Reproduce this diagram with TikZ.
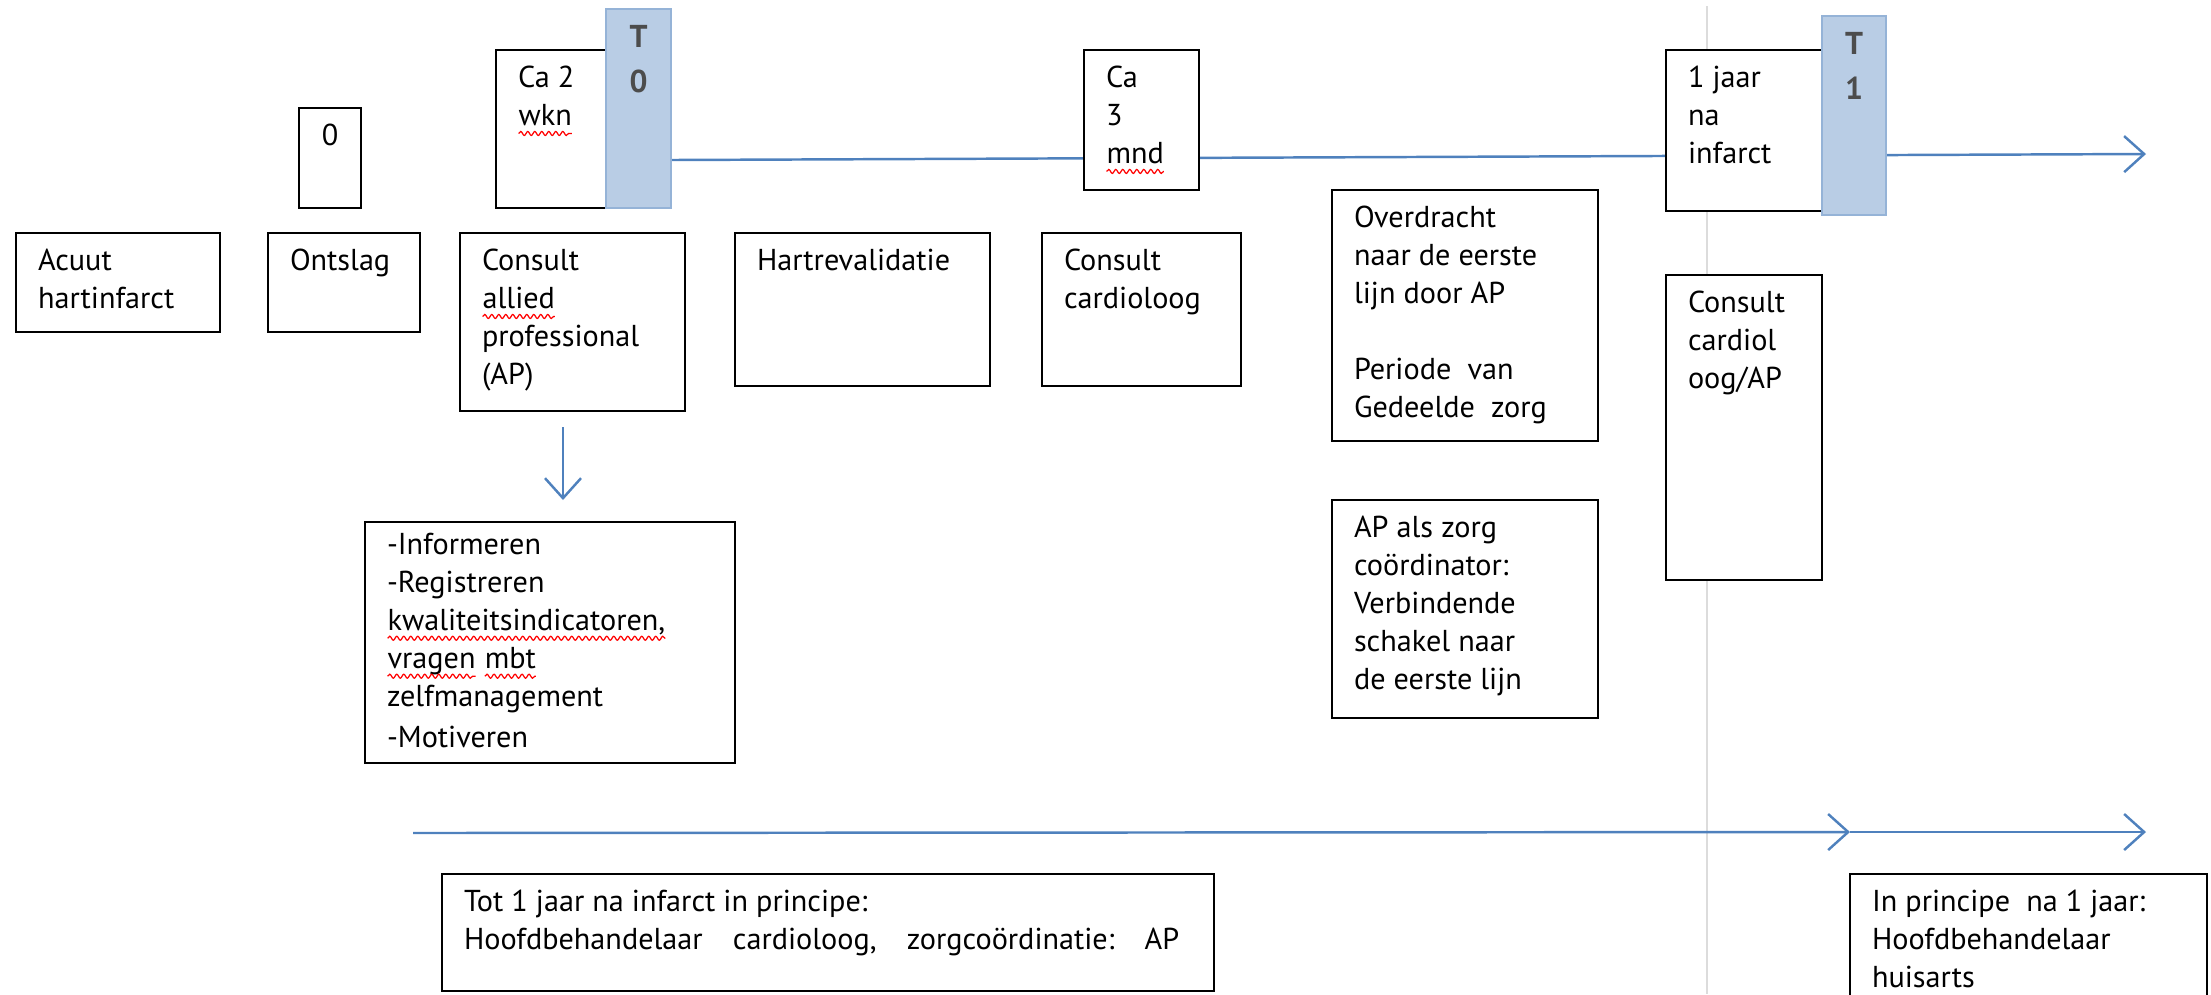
\documentclass[tikz,border=0pt]{standalone}
\usepackage{fontspec}
\setmainfont{PT Sans}
\usetikzlibrary{arrows.meta,decorations.pathmorphing}

\definecolor{lijnblauw}{RGB}{79,129,189}
\definecolor{balkblauw}{RGB}{185,205,229}
\definecolor{balkrand}{RGB}{149,179,215}
\definecolor{grijslijn}{RGB}{220,220,220}

\newcommand{\golf}[1]{\tikz[baseline=(w.base)]{\node[inner sep=0pt, outer sep=0pt] (w) {#1};
  \draw[red, line width=0.35pt, decorate, decoration={snake, amplitude=0.2mm, segment length=0.7mm}]
    ([yshift=-0.8mm]w.base west) -- ([yshift=-0.8mm]w.base east);}}

\newcommand{\doostekst}[3]{\parbox[t][\dimexpr 0.1mm*#2-3.2mm\relax][t]{\dimexpr 0.1mm*#1-4.4mm\relax}{\raggedright #3}}

\tikzset{
  doos/.style={draw, line width=0.6pt, fill=white, anchor=north west, outer sep=0pt,
    inner xsep=2.2mm, inner ysep=1.6mm, font=\fontsize{8.6}{10.8}\selectfont},
  tbalk/.style={doos, draw=balkrand, fill=balkblauw, line width=0.5pt,
    font=\fontsize{9}{13}\selectfont\bfseries, text=black!70},
  tijdlijn/.style={draw=lijnblauw, line width=0.7pt},
  pijl/.style={tijdlijn, -{Straight Barb[length=2mm,width=3.6mm]}},
  hulplijn/.style={draw=grijslijn, line width=0.4pt}
}

\begin{document}
\begin{tikzpicture}[x=0.1mm, y=-0.1mm]
    \useasboundingbox (0,0) rectangle (2211,994);
    \clip (0,0) rectangle (2211,994);

    % grens na 1 jaar
    \coordinate (grens) at (1707,6);
    \draw[hulplijn] (grens) -- (grens |- 0,994);

    % tijdlijnen
    \coordinate (tijdbegin) at (671,160);
    \coordinate (tijdeind) at (2146,154);
    \draw[pijl] (tijdbegin) -- (tijdeind);

    \coordinate (onderbegin) at (413,833);
    \coordinate (ondermidden) at (1850,832);
    \coordinate (ondereind) at (2146,832);
    \draw[pijl] (onderbegin) -- (ondermidden);
    \draw[pijl] (ondermidden) -- (ondereind);

    % momenten
    \node[doos] (nul) at (299,108) {\doostekst{62}{100}{\centering 0}};
    \node[doos] (wkn) at (496,50) {\doostekst{110}{158}{Ca 2\\\golf{wkn}}};
    \node[tbalk] (t0) at (606,9) {\doostekst{65}{199}{\centering T\\0}};
    \node[doos] (mnd) at (1084,50) {\doostekst{115}{140}{Ca\\3\\\golf{mnd}}};
    \node[doos] (jaar) at (1666,50) {\doostekst{156}{161}{1 jaar\\na\\infarct}};
    \node[tbalk] (t1) at (1822,16) {\doostekst{64}{199}{\centering T\\1}};

    % stappen
    \node[doos] (acuut) at (16,233) {\doostekst{204}{99}{Acuut\\hartinfarct}};
    \node[doos] (ontslag) at (268,233) {\doostekst{152}{99}{Ontslag}};
    \node[doos] (ap) at (460,233) {\doostekst{225}{178}{Consult\\\golf{allied}\\professional\\(AP)}};
    \node[doos] (hart) at (735,233) {\doostekst{255}{153}{Hartrevalidatie}};
    \node[doos] (cardio) at (1042,233) {\doostekst{199}{153}{Consult\\cardioloog}};
    \node[doos] (overdracht) at (1332,190) {\doostekst{266}{251}{Overdracht\\naar de eerste\\lijn door AP\\[10.8pt]Periode~ van\\Gedeelde~ zorg}};
    \node[doos] (apzorg) at (1332,500) {\doostekst{266}{218}{AP als zorg\\coördinator:\\Verbindende\\schakel naar\\de eerste lijn}};
    \node[doos] (cardiol) at (1666,275) {\doostekst{156}{305}{Consult\\cardiol\\oog/AP}};

    \node[doos, inner ysep=1.1mm] (info) at (365,522) {\doostekst{370}{251}{-Informeren\\-Registreren\\\golf{kwaliteitsindicatoren,}\\\golf{vragen} \golf{mbt}\\zelfmanagement\\[1pt]-Motiveren}};
    \coordinate (pijlbegin) at (563,427);
    \draw[pijl] (pijlbegin) -- ([yshift=2.2mm]pijlbegin |- info.north);

    % regie
    \node[doos] (tot) at (442,874) {\doostekst{772}{117}{Tot 1 jaar na infarct in principe:\\Hoofdbehandelaar\hspace{1em}cardioloog,\hspace{1em}zorgcoördinatie:\hspace{1em}AP}};
    \node[doos] (huisarts) at (1850,874) {\doostekst{357}{160}{In principe~ na 1 jaar:\\Hoofdbehandelaar\\huisarts}};
\end{tikzpicture}
\end{document}
